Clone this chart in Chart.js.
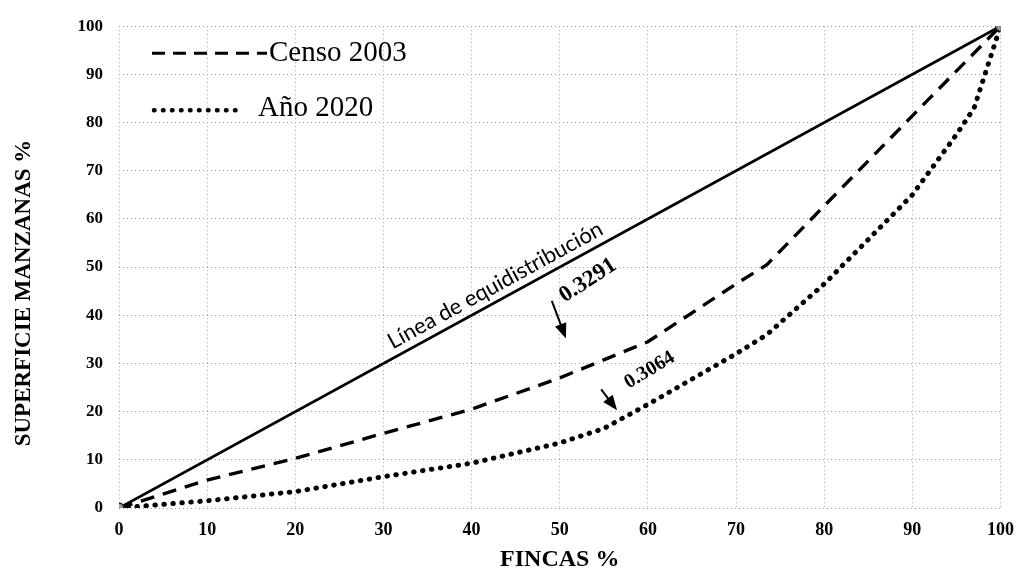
<!DOCTYPE html>
<html>

<head>
  <title>Curva de Lorenz</title>
  <script src="https://cdn.jsdelivr.net/npm/chart.js@4.4.0/dist/chart.umd.min.js"></script>
  <style>
    body { margin: 0; background: #fff; }
    #wrap { width: 1026px; height: 570px; }
  </style>
</head>

<body>
  <div id="wrap"><canvas id="lorenzChart"></canvas></div>

  <script>
    // Values (x = % fincas, y = % superficie)
    const equiX = [0, 100];
    const equiY = [0, 100];
    const censoX = [0, 10, 20, 30, 40, 50, 60, 70, 73.5, 80, 90, 100];
    const censoY = [0, 5.8, 10.3, 15.5, 20.5, 27, 34.5, 46.5, 50.5, 62.7, 81.4, 100];
    const anioX = [0, 10, 20, 30, 40, 50, 55, 60, 70, 73.5, 80, 90, 95, 97, 100];
    const anioY = [0, 1.5, 3.4, 6.5, 9.3, 13.5, 16.5, 21.5, 32, 36, 46.5, 65, 77.5, 83, 100];
    const seriesNames = ['Censo 2003', 'Año 2020'];
    const equiLabel = 'Línea de equidistribución';
    const giniCenso = '0.3291';
    const giniAnio = '0.3064';
    const xTitle = 'FINCAS %';
    const yTitle = 'SUPERFICIE MANZANAS %';

    const pts = (xs, ys) => xs.map((x, i) => ({ x: x, y: ys[i] }));
    const serif = '"Liberation Serif", "Times New Roman", serif';

    function arrow(ctx, x1, y1, x2, y2) {
      const a = Math.atan2(y2 - y1, x2 - x1);
      ctx.beginPath();
      ctx.moveTo(x1, y1);
      ctx.lineTo(x2 - 8 * Math.cos(a), y2 - 8 * Math.sin(a));
      ctx.lineWidth = 2;
      ctx.stroke();
      ctx.beginPath();
      ctx.moveTo(x2, y2);
      ctx.lineTo(x2 - 15 * Math.cos(a) + 6 * Math.sin(a), y2 - 15 * Math.sin(a) - 6 * Math.cos(a));
      ctx.lineTo(x2 - 15 * Math.cos(a) - 6 * Math.sin(a), y2 - 15 * Math.sin(a) + 6 * Math.cos(a));
      ctx.closePath();
      ctx.fill();
    }

    // legend box and the text notes on the plot
    const notes = {
      id: 'notes',
      afterDatasetsDraw(chart) {
        const { ctx, chartArea: ca, scales: { x, y } } = chart;
        ctx.save();
        ctx.fillStyle = '#000';
        ctx.strokeStyle = '#000';

        // legend
        ctx.lineWidth = 3;
        ctx.setLineDash([13, 8]);
        ctx.beginPath();
        ctx.moveTo(ca.left + 33, ca.top + 27);
        ctx.lineTo(ca.left + 148, ca.top + 27);
        ctx.stroke();
        ctx.lineWidth = 4.5;
        ctx.lineCap = 'round';
        ctx.setLineDash([0.5, 8.5]);
        ctx.beginPath();
        ctx.moveTo(ca.left + 35, ca.top + 84);
        ctx.lineTo(ca.left + 122, ca.top + 84);
        ctx.stroke();
        ctx.setLineDash([]);
        ctx.lineCap = 'butt';
        ctx.font = '29px ' + serif;
        ctx.textBaseline = 'middle';
        ctx.fillText(seriesNames[0], ca.left + 150, ca.top + 27);
        ctx.fillText(seriesNames[1], ca.left + 139, ca.top + 82);

        // equidistribution label along the diagonal
        const ang = Math.atan2(y.getPixelForValue(100) - y.getPixelForValue(0),
          x.getPixelForValue(100) - x.getPixelForValue(0));
        ctx.save();
        ctx.translate(x.getPixelForValue(43.5), y.getPixelForValue(43.5));
        ctx.rotate(ang);
        ctx.font = '22px Lato, "Open Sans", sans-serif';
        ctx.textAlign = 'center';
        ctx.fillText(equiLabel, 0, -15);
        ctx.restore();

        // gini values with arrows
        ctx.font = 'bold 23px ' + serif;
        ctx.textAlign = 'center';
        ctx.save();
        ctx.translate(x.getPixelForValue(53.2), y.getPixelForValue(47.2));
        ctx.rotate(-33 * Math.PI / 180);
        ctx.fillText(giniCenso, 0, 0);
        ctx.restore();
        arrow(ctx, x.getPixelForValue(49.1), y.getPixelForValue(43), x.getPixelForValue(50.7), y.getPixelForValue(35.2));

        ctx.font = 'bold 20px ' + serif;
        ctx.save();
        ctx.translate(x.getPixelForValue(60.2), y.getPixelForValue(28.6));
        ctx.rotate(-31 * Math.PI / 180);
        ctx.fillText(giniAnio, 0, 0);
        ctx.restore();
        arrow(ctx, x.getPixelForValue(54.7), y.getPixelForValue(24.6), x.getPixelForValue(56.5), y.getPixelForValue(20.3));

        ctx.restore();
      }
    };

    const gridOpts = { color: '#a0a0a0', lineWidth: 1, drawTicks: false };
    const borderOpts = { display: false, dash: [1, 3] };

    const ctx = document.getElementById('lorenzChart').getContext('2d');
    const lorenzChart = new Chart(ctx, {
      type: 'line',
      data: {
        datasets: [{
          label: equiLabel,
          data: pts(equiX, equiY),
          borderColor: '#000',
          borderWidth: 2.8,
          pointRadius: 5,
          pointBackgroundColor: '#999',
          pointBorderColor: '#222',
          pointBorderWidth: 1.5,
        }, {
          label: seriesNames[0],
          data: pts(censoX, censoY),
          borderColor: '#000',
          borderWidth: 3.4,
          borderDash: [14, 9],
          pointRadius: 0,
        }, {
          label: seriesNames[1],
          data: pts(anioX, anioY),
          borderColor: '#000',
          borderWidth: 5,
          borderDash: [0.5, 8.5],
          borderCapStyle: 'round',
          pointRadius: 0,
        }],
      },
      options: {
        responsive: true,
        maintainAspectRatio: false,
        animation: false,
        layout: { padding: { left: 0, top: 25, right: 21, bottom: 0 } },
        plugins: {
          legend: { display: false },
          tooltip: { enabled: false },
        },
        scales: {
          x: {
            type: 'linear',
            min: 0,
            max: 100,
            grid: gridOpts,
            border: borderOpts,
            ticks: {
              stepSize: 10,
              padding: 12,
              color: '#000',
              maxRotation: 0,
              font: { family: serif, weight: 'bold', size: 18 },
            },
            title: {
              display: true,
              text: xTitle,
              color: '#000',
              font: { family: serif, weight: 'bold', size: 24, lineHeight: 1 },
              padding: { top: 0, bottom: -2 },
            },
            afterFit: (s) => { s.height = 62; },
          },
          y: {
            min: 0,
            max: 100,
            grid: gridOpts,
            border: borderOpts,
            ticks: {
              stepSize: 10,
              padding: 16,
              color: '#000',
              font: { family: serif, weight: 'bold', size: 17 },
            },
            title: {
              display: true,
              text: yTitle + '\u00a0'.repeat(9),
              color: '#000',
              font: { family: serif, weight: 'bold', size: 23 },
              padding: { top: 10, bottom: 0 },
            },
            afterFit: (s) => { s.width = 119; },
          },
        },
      },
      plugins: [notes],
    });
  </script>
</body>

</html>
